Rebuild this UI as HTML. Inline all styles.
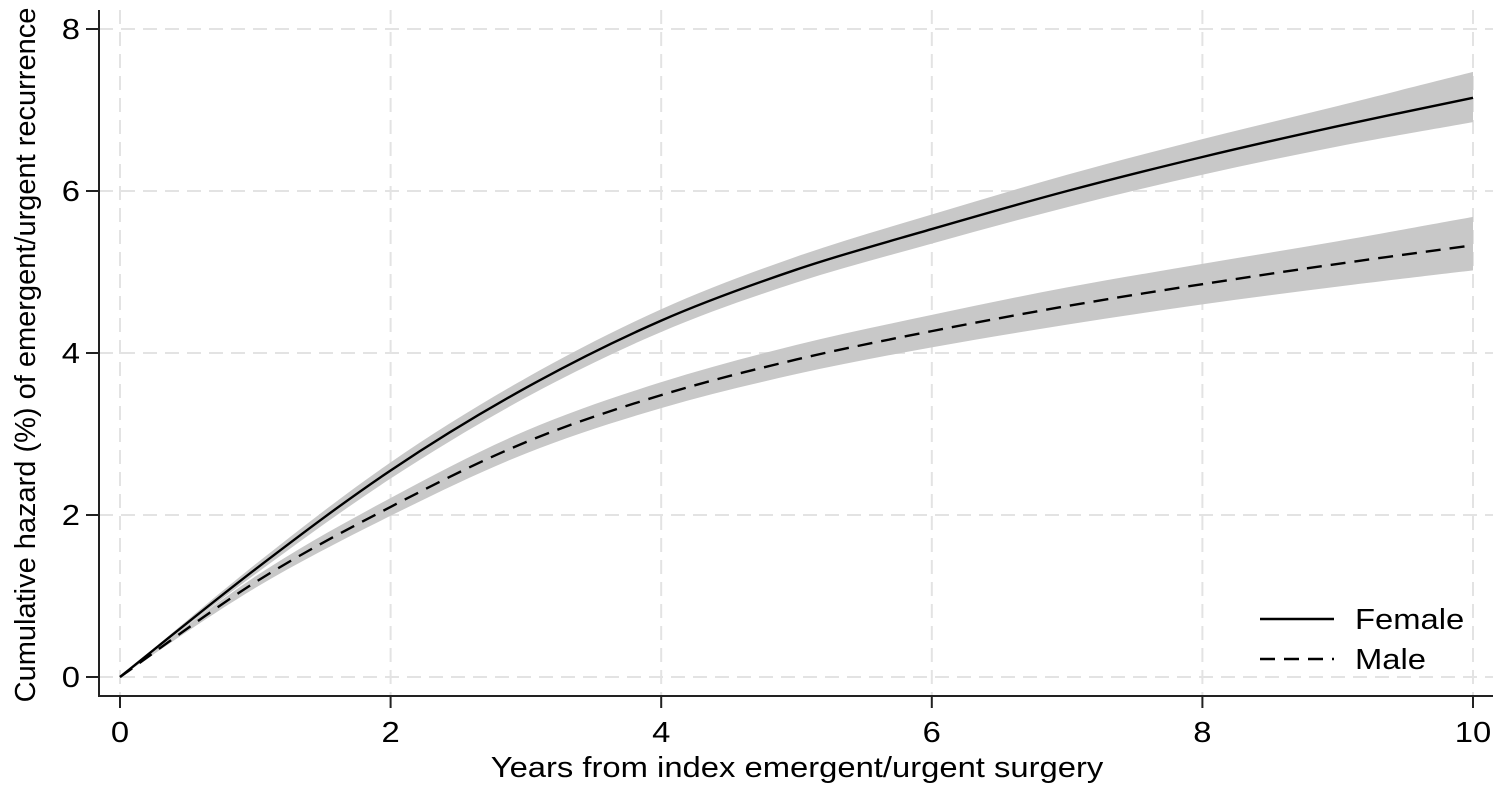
<!DOCTYPE html>
<html><head><meta charset="utf-8"><style>
body{margin:0;background:#fff;}
svg{display:block;font-family:"Liberation Sans",Arial,sans-serif;}
</style></head><body>
<svg id="chart" width="1499" height="789">
<g id="grid"></g>
<g id="bands"></g>
<g id="lines"></g>
<g id="axes"></g>
<g>
<rect x="1240" y="592" width="232" height="82" fill="#fff"/>
<g>
<line x1="1260" y1="619" x2="1334" y2="619" stroke="#000" stroke-width="2.4"/>
<text transform="translate(1355,629) scale(1.13,1)" font-size="29">Female</text></g>
<g>
<line x1="1260" y1="659" x2="1334" y2="659" stroke="#000" stroke-width="2.4" stroke-dasharray="15,9"/>
<text transform="translate(1355,669) scale(1.13,1)" font-size="29">Male</text></g>
</g>
<text transform="translate(797,777) scale(1.13,1)" font-size="29" text-anchor="middle">Years from index emergent/urgent surgery</text>
<text transform="translate(35,355) rotate(-90)" font-size="29" text-anchor="middle">Cumulative hazard (%) of emergent/urgent recurrence</text>
</svg>
<script>
const years=[0,1,2,3,4,5,6,7,8,9,10];
const femaleHaz=[0,1.33,2.55,3.57,4.4,5.03,5.53,6.0,6.42,6.8,7.15];
const femaleLo=[0,1.27,2.45,3.45,4.26,4.87,5.35,5.8,6.2,6.55,6.85];
const femaleHi=[0,1.39,2.65,3.69,4.54,5.19,5.71,6.2,6.64,7.05,7.47];
const maleHaz=[0,1.17,2.1,2.9,3.48,3.92,4.27,4.58,4.85,5.1,5.33];
const maleLo=[0,1.1,1.99,2.76,3.32,3.74,4.07,4.35,4.6,4.82,5.02];
const maleHi=[0,1.24,2.21,3.04,3.64,4.1,4.47,4.81,5.1,5.38,5.68];
const xTicks=[0,2,4,6,8,10];
const yTicks=[0,2,4,6,8];
const NS="http://www.w3.org/2000/svg";
const X=v=>120+v*135.3;
const Y=v=>677-v*81;
function mk(tag,attrs,parent){const e=document.createElementNS(NS,tag);for(const k in attrs)e.setAttribute(k,attrs[k]);parent.appendChild(e);return e;}
const grid=document.getElementById('grid'),axes=document.getElementById('axes'),bands=document.getElementById('bands'),lines=document.getElementById('lines');
xTicks.forEach(t=>{
 const g=mk('line',{x1:X(t),x2:X(t),y1:10,y2:696,stroke:'#e3e3e3','stroke-width':2,'stroke-dasharray':'14,8'},grid);
 
 
 const tk=mk('line',{x1:X(t),x2:X(t),y1:696,y2:708,stroke:'#222','stroke-width':2},axes);
 
 
 const tx=mk('text',{transform:'translate('+X(t)+',742) scale(1.13,1)','font-size':29,'text-anchor':'middle'},axes);tx.textContent=t;
 
 
});
yTicks.forEach(t=>{
 const g=mk('line',{x1:99,x2:1493,y1:Y(t),y2:Y(t),stroke:'#e3e3e3','stroke-width':2,'stroke-dasharray':'14,8'},grid);
 
 
 const tk=mk('line',{x1:86,x2:99,y1:Y(t),y2:Y(t),stroke:'#222','stroke-width':2},axes);
 
 
 const tx=mk('text',{transform:'translate(80,'+(Y(t)+10)+') scale(1.13,1)','font-size':29,'text-anchor':'end'},axes);tx.textContent=t;
 
 
});
const ax=mk('path',{d:'M99,10 V696 H1493',fill:'none',stroke:'#222','stroke-width':2},axes);


function smooth(pts){let d='M'+pts[0][0]+','+pts[0][1];for(let i=0;i<pts.length-1;i++){const p0=pts[Math.max(0,i-1)],p1=pts[i],p2=pts[i+1],p3=pts[Math.min(pts.length-1,i+2)];d+=' C'+(p1[0]+(p2[0]-p0[0])/6)+','+(p1[1]+(p2[1]-p0[1])/6)+' '+(p2[0]-(p3[0]-p1[0])/6)+','+(p2[1]-(p3[1]-p1[1])/6)+' '+p2[0]+','+p2[1];}return d;}
function band(lo,hi,name){
 const up=years.map((t,i)=>[X(t),Y(hi[i])]);
 const dn=years.map((t,i)=>[X(t),Y(lo[i])]).reverse();
 const d=smooth(up)+' L'+smooth(dn).slice(1)+' Z';
 const p=mk('path',{d:d,fill:'#c8c8c8'},bands);
 
 
}
band(femaleLo,femaleHi,'female-ci-band');
band(maleLo,maleHi,'male-ci-band');
const f=mk('path',{d:smooth(years.map((t,i)=>[X(t),Y(femaleHaz[i])])),fill:'none',stroke:'#000','stroke-width':2.4},lines);


const m=mk('path',{d:smooth(years.map((t,i)=>[X(t),Y(maleHaz[i])])),fill:'none',stroke:'#000','stroke-width':2.4,'stroke-dasharray':'15,9'},lines);


</script>
</body></html>
